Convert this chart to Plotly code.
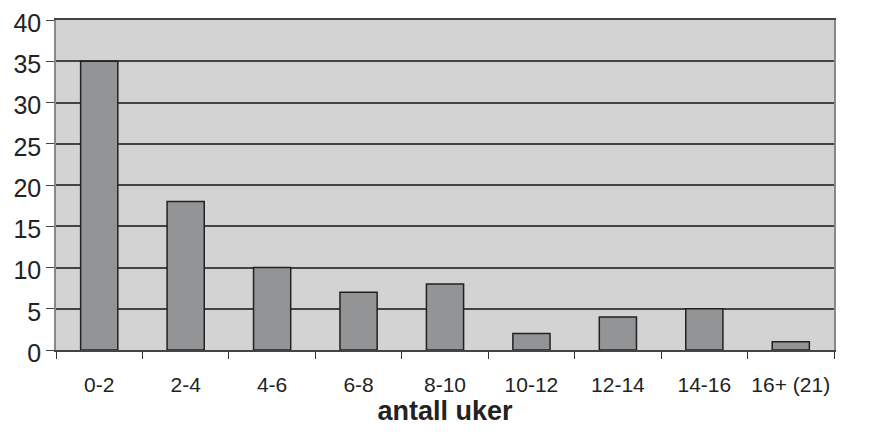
import plotly.graph_objects as go

categories = ["0-2", "2-4", "4-6", "6-8", "8-10", "10-12", "12-14", "14-16", "16+ (21)"]
values = [35, 18, 10, 7, 8, 2, 4, 5, 1]
y_ticks = [0, 5, 10, 15, 20, 25, 30, 35, 40]

fig = go.Figure(go.Bar(
    x=categories, y=values,
    marker=dict(color="#939496", line=dict(color="#222222", width=1.5)),
))

# page body has an 8px default margin, so the figure is sized 8px smaller
fig.update_layout(
    width=861, height=428,
    margin=dict(l=48, r=35, t=12, b=86),
    paper_bgcolor="white", plot_bgcolor="#d3d3d4",
    bargap=0.57,
    showlegend=False,
    font=dict(family="Liberation Sans, Arial, sans-serif", color="#222"),
)
fig.update_xaxes(
    type="category", automargin=False, tickangle=0,
    tickson="boundaries", ticks="outside", ticklen=7, tickcolor="#333",
    tickfont=dict(size=21), ticklabelstandoff=15, ticklabeloverflow="allow",
    showline=True, linecolor="#444", linewidth=1.5, mirror=True,
    showgrid=False,
    title=dict(text="<b>antall uker</b>", font=dict(size=27), standoff=0),
)
fig.update_yaxes(
    range=[0, 40], tickvals=y_ticks, automargin=False,
    ticks="outside", ticklen=8, tickcolor="#444",
    tickfont=dict(size=25), ticklabeloverflow="allow", ticklabelshift=3,
    showline=True, linecolor="#888", linewidth=1.5, mirror=True,
    showgrid=True, gridcolor="#444", gridwidth=1.5,
    zeroline=False,
)
fig.write_html("out.html")
